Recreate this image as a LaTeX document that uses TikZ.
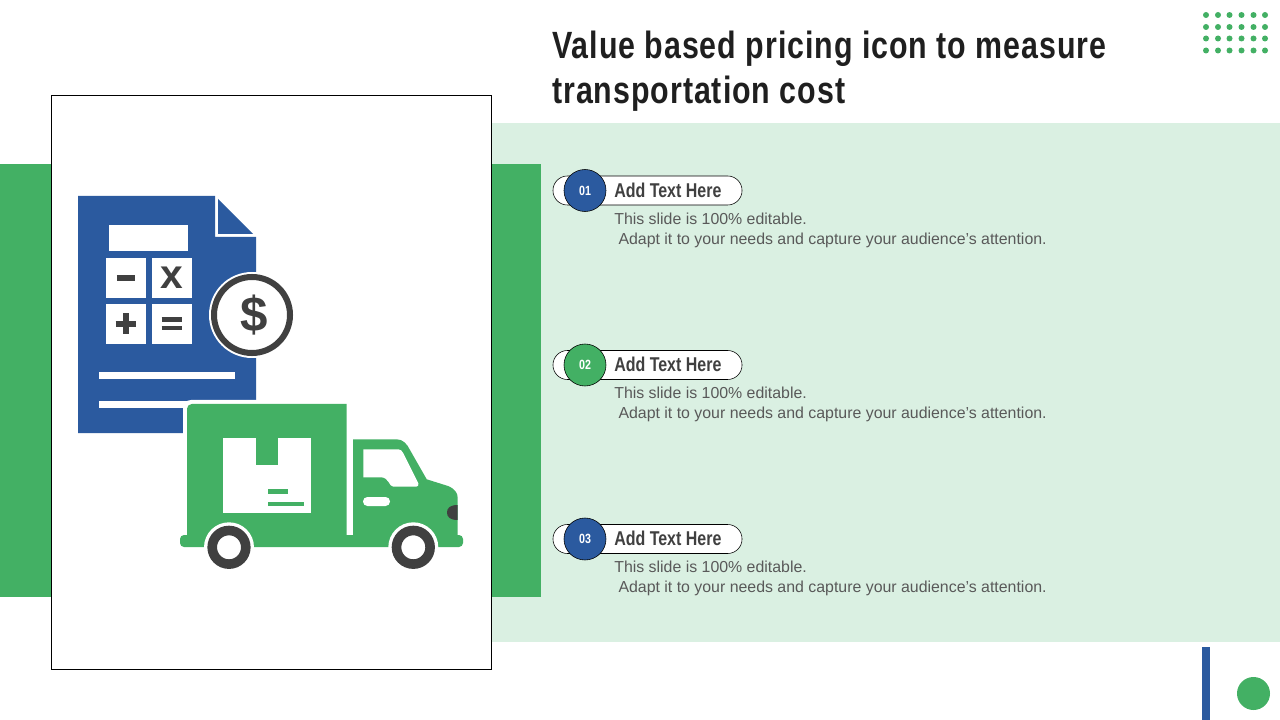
\documentclass[tikz,border=0pt]{standalone}
\usepackage{fontspec}
\setmainfont{Liberation Sans}
\newfontfamily\narrowfont[FakeStretch=0.8]{Liberation Sans}
\newfontfamily\titlefont[FakeStretch=0.8,LetterSpace=2.5]{Liberation Sans}
\usetikzlibrary{positioning}
\definecolor{sheetgreen}{HTML}{43B064}
\definecolor{sheetblue}{HTML}{2B5A9F}
\definecolor{palegreen}{HTML}{DAF0E2}
\definecolor{darkgray}{HTML}{404040}

\begin{document}
\begin{tikzpicture}[
    x=0.025cm, y=-0.025cm,
    title_text/.style={inner sep=0pt, align=left, font=\titlefont\fontsize{27}{32}\selectfont\bfseries, text=black!88},
    pill/.style={draw=black, fill=white, rounded corners=0.36cm, minimum width=4.725cm, minimum height=0.725cm, inner sep=0pt},
    num_circ/.style={circle, draw=black, minimum size=1.05cm, inner sep=0pt, text=white, font=\narrowfont\fontsize{9.5}{11}\selectfont\bfseries},
    label_text/.style={inner sep=0pt, text=darkgray, font=\narrowfont\fontsize{14.2}{16}\selectfont\bfseries},
    body_text/.style={inner sep=0pt, align=left, text=black!65, font=\fontsize{11.3}{14.2}\selectfont},
    key_box/.style={fill=white, minimum size=1cm, inner sep=0pt},
    key_mark/.style={draw=darkgray, line width=0.15cm},
    green_fill/.style={fill=sheetgreen},
    white_fill/.style={fill=white},
    dark_fill/.style={fill=darkgray}
]

\useasboundingbox (0,0) rectangle (1280,720);

% Background bands
\fill[palegreen] (492,123) rectangle (1280,642);
\fill[green_fill] (0,164) rectangle (541,597);
\draw[black, fill=white] (51.5,95.5) rectangle (491.5,669.5);

% Title
\node[title_text, anchor=north west] (title) at (552,31) {Value based pricing icon to measure\\transportation cost};

% Dots top right
\fill[green_fill] (1206,15) circle (3) (1218,15) circle (3) (1229.5,15) circle (3) (1241.5,15) circle (3) (1253.5,15) circle (3) (1265,15) circle (3);
\fill[green_fill] (1206,27) circle (3) (1218,27) circle (3) (1229.5,27) circle (3) (1241.5,27) circle (3) (1253.5,27) circle (3) (1265,27) circle (3);
\fill[green_fill] (1206,38.5) circle (3) (1218,38.5) circle (3) (1229.5,38.5) circle (3) (1241.5,38.5) circle (3) (1253.5,38.5) circle (3) (1265,38.5) circle (3);
\fill[green_fill] (1206,50.5) circle (3) (1218,50.5) circle (3) (1229.5,50.5) circle (3) (1241.5,50.5) circle (3) (1253.5,50.5) circle (3) (1265,50.5) circle (3);

% Bottom right marks
\fill[sheetblue] (1202,647) rectangle (1210,720);
\fill[green_fill] (1253.5,693.5) circle (16.5);

% First row
\node[pill] (pill1) at (647.5,190.5) {};
\node[num_circ, fill=sheetblue] (num1) at (585,190.5) {01};
\node[label_text, anchor=west] (label1) at (614,190) {Add Text Here};
\node[body_text, below right=0.37cm and 0cm of label1.south west] (body1) {This slide is 100\% editable.\\\hspace{3pt}Adapt it to your needs and capture your audience's attention.};

% Second row
\node[pill] (pill2) at (647.5,365) {};
\node[num_circ, fill=sheetgreen] (num2) at (585,365) {02};
\node[label_text, anchor=west] (label2) at (614,364) {Add Text Here};
\node[body_text, below right=0.37cm and 0cm of label2.south west] (body2) {This slide is 100\% editable.\\\hspace{3pt}Adapt it to your needs and capture your audience's attention.};

% Third row
\node[pill] (pill3) at (647.5,539) {};
\node[num_circ, fill=sheetblue] (num3) at (585,539) {03};
\node[label_text, anchor=west] (label3) at (614,538) {Add Text Here};
\node[body_text, below right=0.37cm and 0cm of label3.south west] (body3) {This slide is 100\% editable.\\\hspace{3pt}Adapt it to your needs and capture your audience's attention.};

% Document
\fill[sheetblue] (78,196) -- (215,196) -- (215,237) -- (256,237) -- (256,433) -- (78,433) -- cycle;
\fill[sheetblue] (218,199) -- (253,234) -- (218,234) -- cycle;
\fill[white_fill] (109,225) rectangle (188,251);
\fill[white_fill] (99,372) rectangle (235,379.5);
\fill[white_fill] (99,401) rectangle (235,408);

% Calculator keys
\node[key_box] (key_minus) at (126,278) {};
\node[key_box, right=0.125cm of key_minus, text=darkgray, font=\fontsize{29}{29}\selectfont\bfseries] (key_times) {x};
\node[key_box, below=0.125cm of key_minus] (key_plus) {};
\node[key_box, right=0.125cm of key_plus] (key_equal) {};
\draw[key_mark] ([xshift=-0.225cm]key_minus.center) -- ([xshift=0.225cm]key_minus.center);
\draw[key_mark] ([xshift=-0.26cm]key_plus.center) -- ([xshift=0.26cm]key_plus.center);
\draw[key_mark] ([yshift=-0.26cm]key_plus.center) -- ([yshift=0.26cm]key_plus.center);
\draw[key_mark, line width=0.115cm] ([xshift=-0.25cm,yshift=0.105cm]key_equal.center) -- ([xshift=0.25cm,yshift=0.105cm]key_equal.center);
\draw[key_mark, line width=0.115cm] ([xshift=-0.25cm,yshift=-0.115cm]key_equal.center) -- ([xshift=0.25cm,yshift=-0.115cm]key_equal.center);

% Dollar coin
\fill[white_fill] (252,315) circle (43);
\node[circle, draw=darkgray, line width=0.15cm, fill=white, minimum size=1.9cm, inner sep=0pt, text=darkgray, font=\fontsize{35}{35}\selectfont\bfseries] (coin) at (252,315) {\raisebox{-1.5pt}{\kern2.5pt\$}};

% Truck
\fill[white_fill, rounded corners=0.2cm] (183,400) rectangle (350,540);
\fill[green_fill, rounded corners=0.12cm] (187,420) -- (187,404) [sharp corners] -- (346.7,404) -- (346.7,540) -- (187,540) -- cycle;
\fill[green_fill, rounded corners=0.1cm] (180,535) rectangle (463,547);
\fill[green_fill] (353,536) -- (353,439.3) -- (396.7,439.3) .. controls (403,439.3) and (407,444) .. (410,450) -- (426.7,479.3) -- (448,486) .. controls (455,489) and (457.7,493) .. (457.7,498) -- (457.7,540) -- (353,540) -- cycle;
\fill[white_fill] (363.3,449.3) -- (398.3,449.3) .. controls (401,449.3) and (402,451) .. (403.3,453.3) -- (418.3,483.3) .. controls (419,485.5) and (418,486.7) .. (416,486.7) -- (393.3,486.7) .. controls (389,486.7) and (389,477.3) .. (381,477.3) -- (363.3,477.3) -- cycle;
\fill[white_fill, rounded corners=0.11cm] (363,497) rectangle (390,506);
\fill[dark_fill] (457.7,505) .. controls (450,505) and (447,508) .. (447,512.5) .. controls (447,517) and (450,520) .. (457.7,520) -- cycle;

% Parcel
\fill[white_fill] (222.7,438.3) rectangle (311,513);
\fill[green_fill] (256,438.3) rectangle (278,464.7);
\fill[green_fill] (268.3,489.3) rectangle (288,493.7);
\fill[green_fill] (268.3,502) rectangle (304,506);

% Wheels
\fill[white_fill] (229,547.3) circle (25);
\fill[white_fill] (413.3,547.3) circle (25);
\draw[darkgray, line width=0.24cm] (229,547.3) circle (16.8);
\draw[darkgray, line width=0.24cm] (413.3,547.3) circle (16.8);

\end{tikzpicture}
\end{document}
